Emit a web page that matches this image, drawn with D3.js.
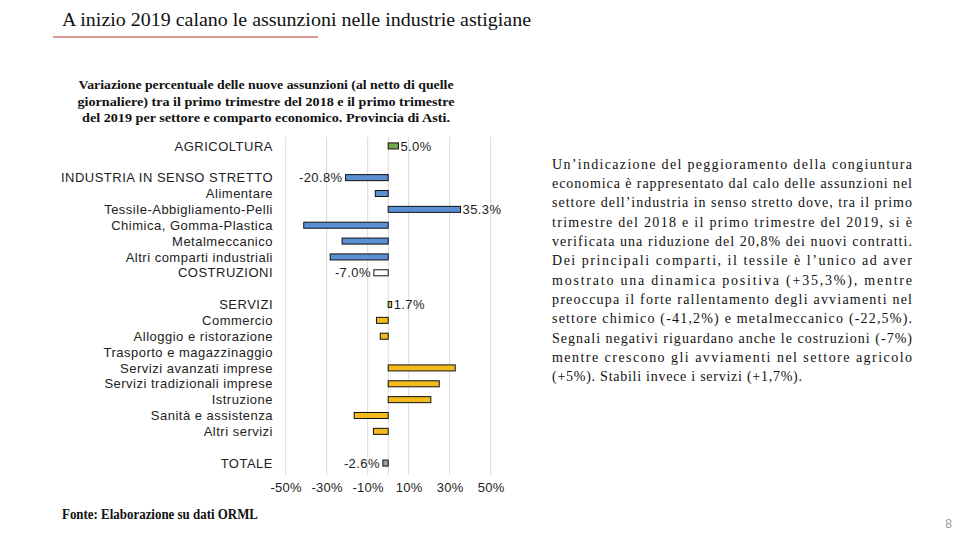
<!DOCTYPE html>
<html><head><meta charset="utf-8">
<script src="https://cdn.jsdelivr.net/npm/d3@7/dist/d3.min.js"></script>
<style>
html,body{margin:0;padding:0;background:#fff;}
svg{display:block;}
</style></head>
<body>
<script>
const categories = ["AGRICOLTURA","","INDUSTRIA IN SENSO STRETTO","Alimentare","Tessile-Abbigliamento-Pelli","Chimica, Gomma-Plastica","Metalmeccanico","Altri comparti industriali","COSTRUZIONI","","SERVIZI","Commercio","Alloggio e ristorazione","Trasporto e magazzinaggio","Servizi avanzati imprese","Servizi tradizionali imprese","Istruzione","Sanità e assistenza","Altri servizi","","TOTALE"];
const values = [5.0,null,-20.8,-6.3,35.3,-41.2,-22.5,-28.3,-7.0,null,1.7,-5.7,-3.9,0,32.7,24.9,20.8,-16.6,-7.2,null,-2.6];
const rowTypes = ["agri","gap","indTotal","ind","ind","ind","ind","ind","costr","gap","servTotal","serv","serv","serv","serv","serv","serv","serv","serv","gap","total"];
const labeledCategories = ["AGRICOLTURA","INDUSTRIA IN SENSO STRETTO","Tessile-Abbigliamento-Pelli","COSTRUZIONI","SERVIZI","TOTALE"];
const tickValues = [-50,-30,-10,10,30,50];
const title = "A inizio 2019 calano le assunzioni nelle industrie astigiane";
const subtitleLines = ["Variazione percentuale delle nuove assunzioni (al netto di quelle","giornaliere) tra il primo trimestre del 2018 e il primo trimestre","del 2019 per settore e comparto economico. Provincia di Asti."];
const paragraphLines = ["Un’indicazione del peggioramento della congiuntura","economica è rappresentato dal calo delle assunzioni nel","settore dell’industria in senso stretto dove, tra il primo","trimestre del 2018 e il primo trimestre del 2019, si è","verificata una riduzione del 20,8% dei nuovi contratti.","Dei principali comparti, il tessile è l’unico ad aver","mostrato una dinamica positiva (+35,3%), mentre","preoccupa il forte rallentamento degli avviamenti nel","settore chimico (-41,2%) e metalmeccanico (-22,5%).","Segnali negativi riguardano anche le costruzioni (-7%)","mentre crescono gli avviamenti nel settore agricolo","(+5%). Stabili invece i servizi (+1,7%)."];
const source = "Fonte: Elaborazione su dati ORML";
const pageNumber = "8";

const colors = {agri:"#70a84a", indTotal:"#5a8fd2", ind:"#5a8fd2", costr:"#ffffff", servTotal:"#d2bc60", serv:"#f3ba1e", total:"#a0a0a0"};
const labeled = new Set(labeledCategories);

const W = 960, H = 540;
const svg = d3.select("body").append("svg").attr("width", W).attr("height", H);
const sans = "'Liberation Sans', Arial, sans-serif";
const serif = "'Liberation Serif', 'Times New Roman', serif";

// Title
svg.append("text").attr("x", 62).attr("y", 26).attr("font-family", serif).attr("font-size", 19)
  .attr("fill", "#111").attr("textLength", 469).attr("lengthAdjust","spacingAndGlyphs").text(title);
svg.append("line").attr("x1", 53).attr("x2", 318).attr("y1", 37).attr("y2", 37)
  .attr("stroke", "#c0302a").attr("stroke-width", 1.2);

// Subtitle
const subW = [375, 377, 368];
subtitleLines.forEach((t, i) => {
  svg.append("text").attr("x", 266).attr("y", 89 + i * 16.5).attr("text-anchor", "middle")
    .attr("font-family", serif).attr("font-weight", "bold").attr("font-size", 13.5)
    .attr("fill", "#111").attr("textLength", subW[i]).attr("lengthAdjust", "spacingAndGlyphs").text(t);
});

// Chart
const x = d3.scaleLinear().domain([-50, 50]).range([285.7, 490.7]);
const idx = d3.range(categories.length);
const y = d3.scaleBand().domain(idx).range([138, 471]).paddingInner(0.62).paddingOuter(0.31);

const g = svg.append("g");
g.selectAll("line.grid").data(tickValues).join("line").attr("class","grid")
  .attr("x1", d => x(d)).attr("x2", d => x(d)).attr("y1", 137).attr("y2", 475)
  .attr("stroke", "#d9d9d9").attr("stroke-width", 1);
g.append("line").attr("x1", x(0)).attr("x2", x(0)).attr("y1", 137).attr("y2", 475)
  .attr("stroke", "#d9d9d9").attr("stroke-width", 1);

const rows = idx.map(i => ({i, cat: categories[i], v: values[i], t: rowTypes[i]}));
g.selectAll("rect.bar").data(rows.filter(d => d.v !== null && d.v !== 0)).join("rect").attr("class","bar")
  .attr("x", d => x(Math.min(0, d.v))).attr("width", d => Math.abs(x(d.v) - x(0)))
  .attr("y", d => y(d.i)).attr("height", y.bandwidth())
  .attr("fill", d => colors[d.t]).attr("stroke", "#111").attr("stroke-width", 1);

// Category labels
g.selectAll("text.cat").data(rows).join("text").attr("class","cat")
  .attr("x", 273).attr("y", d => y(d.i) + y.bandwidth() / 2).attr("dy", "0.36em")
  .attr("text-anchor", "end").attr("font-family", sans).attr("font-size", 13)
  .attr("letter-spacing", 0.5).attr("fill", "#222").text(d => d.cat);

// Data labels
const fmt = v => v.toFixed(1) + "%";
g.selectAll("text.val").data(rows.filter(d => labeled.has(d.cat))).join("text").attr("class","val")
  .attr("x", d => d.v >= 0 ? x(d.v) + 2 : x(d.v) - 3)
  .attr("y", d => y(d.i) + y.bandwidth() / 2).attr("dy", "0.36em")
  .attr("text-anchor", d => d.v >= 0 ? "start" : "end")
  .attr("font-family", sans).attr("font-size", 13).attr("letter-spacing", 0.4)
  .attr("fill", "#222").text(d => fmt(d.v));

// X axis
const axis = d3.axisBottom(x).tickValues(tickValues).tickFormat(d => d + "%").tickSize(0).tickPadding(0);
const ax = g.append("g").attr("transform", "translate(0,480)").call(axis);
ax.select(".domain").remove();
ax.selectAll("text").attr("font-family", sans).attr("font-size", 13).attr("letter-spacing", 0.3)
  .attr("fill", "#222").attr("dy", "0.9em");

// Paragraph (justified)
const pX = 552, pW = 360;
paragraphLines.forEach((t, i) => {
  const last = i === paragraphLines.length - 1;
  svg.append("text").attr("x", pX).attr("y", 168.5 + i * 19.36)
    .attr("font-family", serif).attr("font-size", 14).attr("fill", "#111")
    .attr("textLength", last ? 250 : pW).attr("lengthAdjust", "spacing").text(t);
});

// Source
svg.append("text").attr("x", 62).attr("y", 519).attr("font-family", serif).attr("font-weight", "bold")
  .attr("font-size", 14).attr("fill", "#111").attr("textLength", 196).attr("lengthAdjust", "spacingAndGlyphs").text(source);

// Page number
svg.append("text").attr("x", 952).attr("y", 528).attr("text-anchor", "end").attr("font-family", sans)
  .attr("font-size", 12).attr("fill", "#999").text(pageNumber);
</script>
</body></html>
